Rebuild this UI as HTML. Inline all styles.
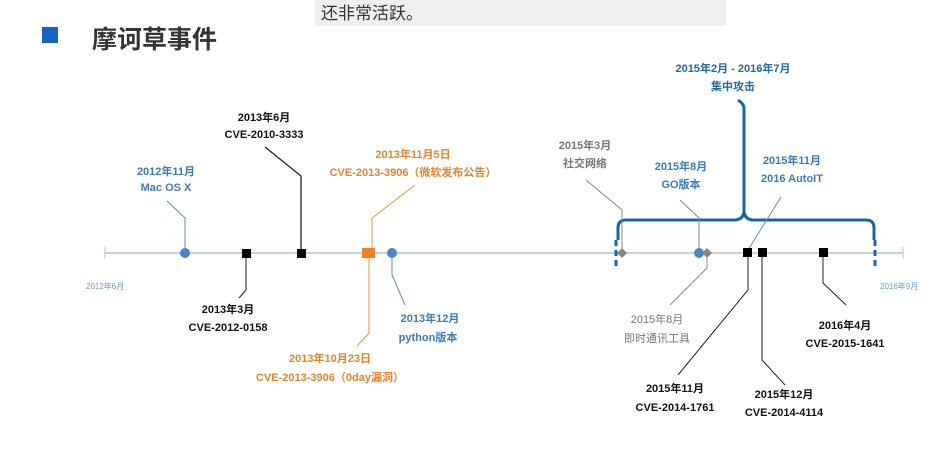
<!DOCTYPE html>
<html><head><meta charset="utf-8"><style>
html,body{margin:0;padding:0;background:#fff;}
svg{display:block;font-family:"Liberation Sans","Noto Sans CJK SC",sans-serif;}
</style></head><body>
<svg width="939" height="451" viewBox="0 0 939 451" xmlns="http://www.w3.org/2000/svg">
<rect x="315" y="0" width="411" height="26" fill="#efefef"/>
<text x="321" y="19" font-size="17" fill="#333">还非常活跃。</text>
<rect x="42" y="27" width="16" height="16" fill="#1565c0"/>
<text x="92" y="48" font-size="25" font-weight="bold" fill="#333">摩诃草事件</text>

<!-- timeline -->
<line x1="105" y1="253" x2="903" y2="253" stroke="#a9c7de" stroke-width="1.5"/>
<line x1="105" y1="247" x2="105" y2="259" stroke="#a9c7de"/>
<line x1="903" y1="247" x2="903" y2="259" stroke="#a9c7de"/>
<text x="86" y="289" font-size="8" fill="#6a9cc4">2012年6月</text>
<text x="880" y="289" font-size="8" fill="#6a9cc4">2016年9月</text>

<g font-size="11" font-weight="bold" text-anchor="middle">
<!-- Mac OS X -->
<polyline points="185,253 185,218 167,201" fill="none" stroke="#5b8fbf" stroke-width="1"/>
<circle cx="185" cy="253" r="5" fill="#4a86c5"/>
<text x="166" y="175" fill="#3a7bbf">2012年11月</text>
<text x="166" y="191" fill="#3a7bbf">Mac OS X</text>

<!-- 2013-3 -->
<polyline points="246,253 246,290 239,298" fill="none" stroke="#222"/>
<rect x="242" y="249" width="9" height="9" fill="#000"/>
<text x="228" y="313" fill="#111">2013年3月</text>
<text x="228" y="331" fill="#111">CVE-2012-0158</text>

<!-- 2013-6 -->
<polyline points="301,253 301,176 265,147" fill="none" stroke="#222" stroke-width="1.3"/>
<rect x="297" y="249" width="9" height="9" fill="#000"/>
<text x="264" y="121" fill="#111">2013年6月</text>
<text x="264" y="138" fill="#111">CVE-2010-3333</text>

<!-- orange -->
<polyline points="372,253 372,218 415,185" fill="none" stroke="#f0913a"/>
<polyline points="369,253 369,333 357,346" fill="none" stroke="#f0913a"/>
<rect x="362" y="248" width="13" height="10" fill="#f07f1e"/>
<text x="413" y="158" fill="#e8822c">2013年11月5日</text>
<text x="413" y="176" fill="#e8822c">CVE-2013-3906（微软发布公告）</text>
<text x="330" y="362" fill="#e8822c">2013年10月23日</text>
<text x="330" y="381" fill="#e8822c">CVE-2013-3906（0day漏洞）</text>

<!-- python -->
<polyline points="392,253 392,275 405,305" fill="none" stroke="#5b8fbf"/>
<circle cx="392" cy="253" r="5" fill="#4a86c5"/>
<text x="430" y="322" fill="#3a7bbf">2013年12月</text>
<text x="428" y="341" fill="#3a7bbf">python版本</text>

<!-- brace -->
<path d="M618,240 L618,228 Q618,220 626,220 L734,220 Q744,220 744,210 L744,108 Q744,104 738,100" fill="none" stroke="#1a65a8" stroke-width="3"/>
<path d="M744,210 Q744,220 754,220 L866,220 Q874,220 874,228 L874,240" fill="none" stroke="#1a65a8" stroke-width="3"/>
<line x1="616" y1="240" x2="616" y2="266" stroke="#1a65a8" stroke-width="3" stroke-dasharray="6,4"/>
<line x1="875" y1="240" x2="875" y2="266" stroke="#1a65a8" stroke-width="3" stroke-dasharray="6,4"/>
<text x="733" y="72" fill="#1f69ad">2015年2月 - 2016年7月</text>
<text x="733" y="90" fill="#1f69ad">集中攻击</text>

<!-- social -->
<polyline points="622,253 622,210 586,180" fill="none" stroke="#888"/>
<rect x="618.5" y="249.5" width="7" height="7" fill="#888" transform="rotate(45 622 253)"/>
<text x="585" y="149" fill="#777">2015年3月</text>
<text x="585" y="167" fill="#777">社交网络</text>

<!-- GO -->
<polyline points="699,253 699,218 680,200" fill="none" stroke="#888"/>
<polyline points="707,253 707,268 670,305" fill="none" stroke="#888"/>
<circle cx="699" cy="253" r="5" fill="#4a86c5"/>
<rect x="703.5" y="249.5" width="7" height="7" fill="#888" transform="rotate(45 707 253)"/>
<text x="681" y="170" fill="#3a7bbf">2015年8月</text>
<text x="681" y="188" fill="#3a7bbf">GO版本</text>
<text x="657" y="323" fill="#777" font-weight="normal">2015年8月</text>
<text x="657" y="342" fill="#777" font-weight="normal">即时通讯工具</text>

<!-- AutoIT -->
<line x1="781" y1="197" x2="748" y2="250" stroke="#5b8fbf"/>
<text x="792" y="164" fill="#3a7bbf">2015年11月</text>
<text x="792" y="182" fill="#3a7bbf">2016 AutoIT</text>

<!-- black squares right -->
<polyline points="748,253 748,290 678,375" fill="none" stroke="#222"/>
<polyline points="762,253 762,360 785,385" fill="none" stroke="#222"/>
<polyline points="823,253 823,283 846,305" fill="none" stroke="#222"/>
<rect x="743" y="248" width="9" height="9" fill="#000"/>
<rect x="758" y="248" width="9" height="9" fill="#000"/>
<rect x="819" y="248" width="9" height="9" fill="#000"/>
<text x="675" y="392" fill="#111">2015年11月</text>
<text x="675" y="411" fill="#111">CVE-2014-1761</text>
<text x="784" y="398" fill="#111">2015年12月</text>
<text x="784" y="416" fill="#111">CVE-2014-4114</text>
<text x="845" y="329" fill="#111">2016年4月</text>
<text x="845" y="347" fill="#111">CVE-2015-1641</text>
</g>
</svg>
</body></html>
